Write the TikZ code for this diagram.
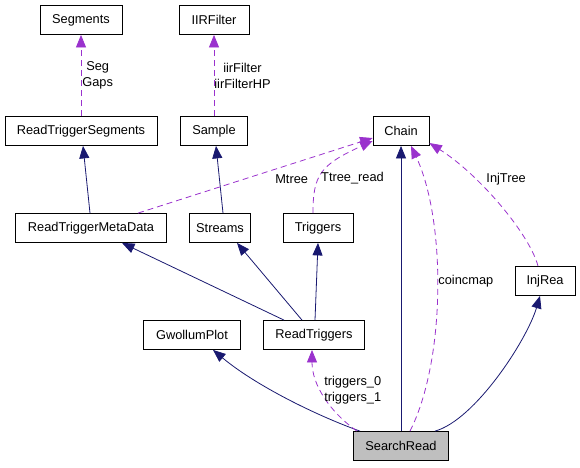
\documentclass[tikz,border=0pt]{standalone}
\usepackage{fontspec}
\setmainfont{Liberation Sans}
\usetikzlibrary{arrows.meta}
\definecolor{inhblue}{HTML}{191970}
\definecolor{usepurple}{HTML}{9A32CD}
\definecolor{curgray}{HTML}{BFBFBF}
\tikzstyle{cls}=[shape=rectangle, draw, line width=0.8pt, minimum height=29pt, inner sep=0pt, font=\fontsize{12.8}{15}\selectfont]
\tikzstyle{inh}=[inhblue, line width=0.8pt, -{Triangle[length=12.5pt,width=10pt]}]
\tikzstyle{usg}=[usepurple, line width=0.8pt, dash pattern=on 6pt off 4pt, -{Triangle[length=12.5pt,width=10pt]}]
\tikzstyle{lbl}=[black, font=\fontsize{12.8}{16}\selectfont, align=center, inner sep=1pt]

\begin{document}
\begin{tikzpicture}[x=1pt,y=-1pt]
\useasboundingbox (0,0) rectangle (580,467);
\node (seg) [cls,minimum width=82pt] at (81,20) {Segments};
\node (iir) [cls,minimum width=70pt] at (214,20) {IIRFilter};
\node (rts) [cls,minimum width=152pt] at (81,131) {ReadTriggerSegments};
\node (smp) [cls,minimum width=67pt] at (214,131) {Sample};
\node (chain) [cls,minimum width=56pt] at (401,131) {Chain};
\node (rtmd) [cls,minimum width=151pt] at (91,228) {ReadTriggerMetaData};
\node (strm) [cls,minimum width=61pt] at (220,228) {Streams};
\node (trig) [cls,minimum width=70pt] at (318,228) {Triggers};
\node (injrea) [cls,minimum width=60pt] at (545,281) {InjRea};
\node (gwp) [cls,minimum width=97pt] at (192,335) {GwollumPlot};
\node (rtrig) [cls,minimum width=101pt] at (314,335) {ReadTriggers};
\node (srd) [cls,minimum width=95pt,fill=curgray] at (401,446) {SearchRead};

% inheritance
\draw[inh] ([xshift=-1pt]rtmd.north) -- ([xshift=2pt]rts.south);
\draw[inh] ([xshift=3pt]strm.north) -- ([xshift=2pt]smp.south);
\draw[inh] ([xshift=-30pt]rtrig.north) -- ([xshift=31pt]rtmd.south);
\draw[inh] ([xshift=-12pt]rtrig.north) -- ([xshift=17pt]strm.south);
\draw[inh] ([xshift=1pt]rtrig.north) -- (trig.south);
\draw[inh] ([xshift=-41pt]srd.north) .. controls (315,415) and (255,385) .. ([xshift=21pt]gwp.south);
\draw[inh] (srd) -- (chain);
\draw[inh] ([xshift=34pt]srd.north) .. controls (475,420) and (527,340) .. ([xshift=-5pt]injrea.south);

% usage
\draw[usg] (rts) -- node[lbl,right] (lSeg) {Seg\\Gaps} (seg);
\draw[usg] (smp) -- node[lbl,right,inner sep=0pt] (lIir) {iirFilter\\iirFilterHP} (iir);
\draw[usg] ([xshift=47pt]rtmd.north) -- node[lbl,pos=0.655,yshift=-15pt] (lMtree) {Mtree} ([yshift=-7pt]chain.west);
\draw[usg] ([xshift=-5pt]trig.north) .. node[lbl,pos=0.4,right,inner sep=2pt] (lTtree) {Ttree\_read} controls (313,175) and (320,165) .. ([yshift=-10pt]chain.west);
\draw[usg] ([xshift=9pt]srd.north) .. node[lbl,pos=0.527,right] (lCoinc) {coincmap} controls (446,360) and (446,220) .. ([xshift=10pt]chain.south);
\draw[usg] ([xshift=-7pt]injrea.north) .. node[lbl,pos=0.69,right=10pt] (lInj) {InjTree} controls (530,235) and (480,175) .. ([yshift=-12pt]chain.east);
\draw[usg] ([xshift=-44pt]srd.north) .. node[lbl,pos=0.58,right,inner sep=3pt] (lTrg) {triggers\_0\\triggers\_1} controls (330,412) and (312,385) .. ([xshift=-2pt]rtrig.south);

\end{tikzpicture}
\end{document}
